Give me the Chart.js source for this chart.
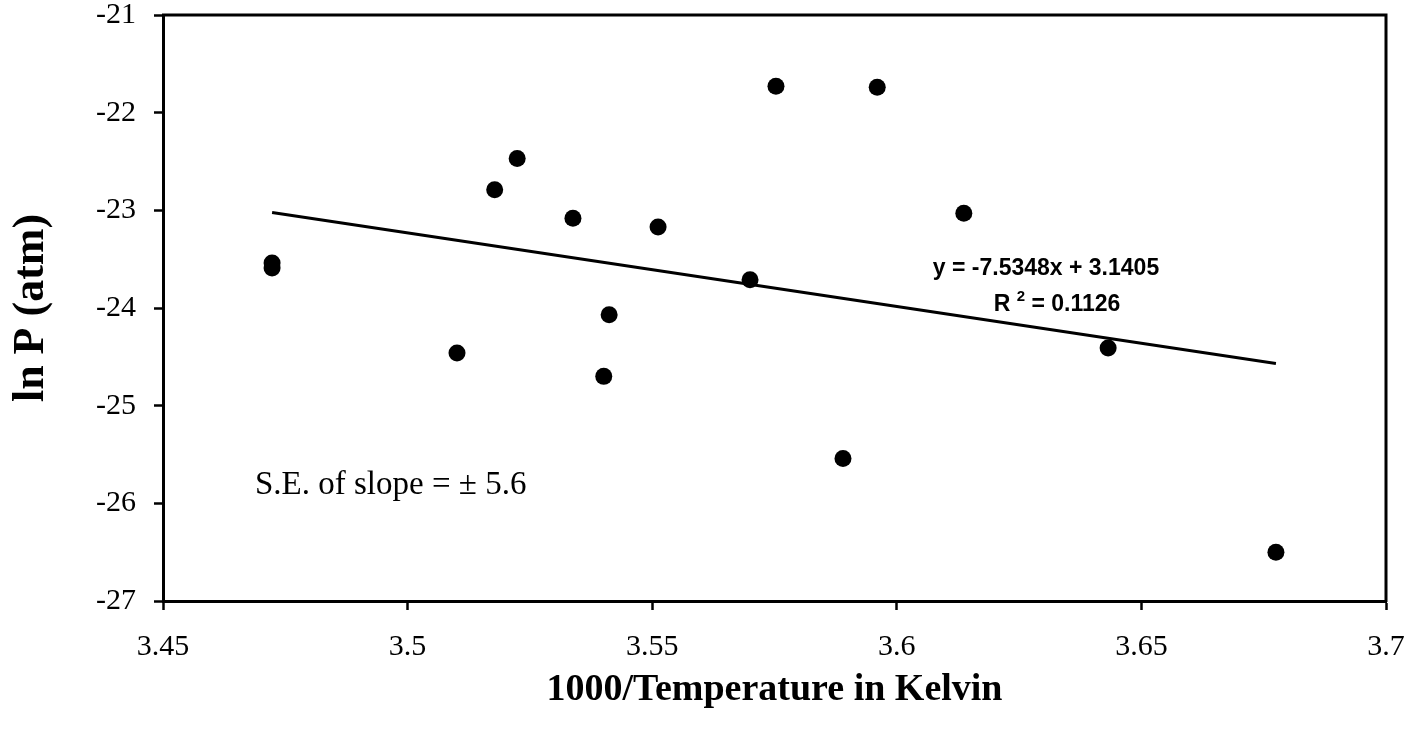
<!DOCTYPE html>
<html>
<head>
<meta charset="utf-8">
<title>ln P vs 1000/T</title>
<script src="https://cdn.jsdelivr.net/npm/chart.js@4/dist/chart.umd.min.js"></script>
<style>
  html, body { margin: 0; padding: 0; background: #fff; }
  #wrap { width: 1410px; height: 736px; }
</style>
</head>
<body>
<div id="wrap"><canvas id="lnpChart" width="1410" height="736"></canvas></div>
<script>
// measured points: 1000/T (K^-1) against ln P (atm)
const invTemp = [3.4723, 3.4723, 3.5101, 3.5178, 3.5224, 3.5338, 3.5401, 3.5412,
                 3.5512, 3.5700, 3.5753, 3.5890, 3.5960, 3.6137, 3.6432, 3.6775];
const lnP = [-23.54, -23.59, -24.46, -22.79, -22.47, -23.08, -24.70, -24.07,
             -23.17, -23.71, -21.73, -25.54, -21.74, -23.03, -24.41, -26.50];

// linear fit reported on the plot
const fitSlope = -7.5348;
const fitIntercept = 3.1405;
const fitR2 = "0.1126";
const slopeSE = "5.6";

// axis ticks
const xTicks = [3.45, 3.5, 3.55, 3.6, 3.65, 3.7];
const xTickLabels = ["3.45", "3.5", "3.55", "3.6", "3.65", "3.7"];
const yTicks = [-27, -26, -25, -24, -23, -22, -21];
const yTickLabels = ["-27", "-26", "-25", "-24", "-23", "-22", "-21"];

document.addEventListener("DOMContentLoaded", function () {
  const canvas = document.getElementById("lnpChart");

  const points = invTemp.map(function (x, i) { return { x: x, y: lnP[i] }; });
  const xMin = Math.min.apply(null, invTemp);
  const xMax = Math.max.apply(null, invTemp);
  const fitLine = [
    { x: xMin, y: fitSlope * xMin + fitIntercept },
    { x: xMax, y: fitSlope * xMax + fitIntercept }
  ];

  // top and right edges of the plot box
  const frame = {
    id: "frame",
    afterDatasetsDraw: function (chart) {
      const a = chart.chartArea, ctx = chart.ctx;
      ctx.save();
      ctx.strokeStyle = "#000";
      ctx.lineWidth = 3;
      ctx.beginPath();
      ctx.moveTo(a.left - 1, a.top);
      ctx.lineTo(a.right, a.top);
      ctx.lineTo(a.right, a.bottom + 1);
      ctx.stroke();
      ctx.restore();
    }
  };

  // regression text and slope error note
  const notes = {
    id: "notes",
    afterDraw: function (chart) {
      const ctx = chart.ctx;
      ctx.save();
      ctx.fillStyle = "#000";
      ctx.textBaseline = "alphabetic";

      ctx.font = 'bold 23px "Liberation Sans", Arial, sans-serif';
      ctx.textAlign = "center";
      const sign = fitIntercept < 0 ? " - " : " + ";
      ctx.fillText("y = " + fitSlope + "x" + sign + Math.abs(fitIntercept), 1046, 275);

      // R² line with a raised 2
      const head = "R ", tail = " = " + fitR2;
      const big = 'bold 23px "Liberation Sans", Arial, sans-serif';
      const small = 'bold 15px "Liberation Sans", Arial, sans-serif';
      ctx.font = big;
      const wHead = ctx.measureText(head).width, wTail = ctx.measureText(tail).width;
      ctx.font = small;
      const wSup = ctx.measureText("2").width;
      let x = 1057 - (wHead + wSup + wTail) / 2;
      ctx.textAlign = "left";
      ctx.font = big;
      ctx.fillText(head, x, 311);
      x += wHead;
      ctx.font = small;
      ctx.fillText("2", x, 301);
      x += wSup;
      ctx.font = big;
      ctx.fillText(tail, x, 311);

      ctx.font = '33px "Liberation Serif", "Times New Roman", serif';
      ctx.fillText("S.E. of slope = \u00b1 " + slopeSE, 255, 494);
      ctx.restore();
    }
  };

  const tickFont = { family: '"Liberation Serif", "Times New Roman", serif', size: 30 };

  new Chart(canvas, {
    type: "scatter",
    data: {
      datasets: [
        {
          label: "ln P",
          data: points,
          backgroundColor: "#000",
          borderWidth: 0,
          pointRadius: 8.5,
          pointHoverRadius: 8.5
        },
        {
          type: "line",
          label: "fit",
          data: fitLine,
          borderColor: "#000",
          borderWidth: 3,
          pointRadius: 0,
          fill: false
        }
      ]
    },
    options: {
      responsive: false,
      animation: false,
      layout: { padding: { top: 15, right: 24, bottom: 0, left: 0 } },
      plugins: {
        legend: { display: false },
        tooltip: { enabled: false }
      },
      scales: {
        x: {
          type: "linear",
          min: xTicks[0],
          max: xTicks[xTicks.length - 1],
          afterBuildTicks: function (scale) {
            scale.ticks = xTicks.map(function (v) { return { value: v }; });
          },
          afterFit: function (scale) {
            scale.height = 135;
            scale.paddingLeft = 0;
            scale.paddingRight = 0;
          },
          grid: { display: true, drawOnChartArea: false, drawTicks: true, tickLength: 9, tickWidth: 2.5, tickColor: "#000" },
          border: { display: true, color: "#000", width: 3 },
          ticks: {
            color: "#000",
            font: tickFont,
            padding: 19,
            maxRotation: 0,
            autoSkip: false,
            callback: function (v, i) { return xTickLabels[i]; }
          },
          title: {
            display: true,
            text: "1000/Temperature in Kelvin",
            color: "#000",
            font: { family: '"Liberation Serif", "Times New Roman", serif', size: 38, weight: "bold" },
            padding: { top: 0, bottom: 23 }
          }
        },
        y: {
          type: "linear",
          min: yTicks[0],
          max: yTicks[yTicks.length - 1],
          afterBuildTicks: function (scale) {
            scale.ticks = yTicks.map(function (v) { return { value: v }; });
          },
          afterFit: function (scale) {
            scale.width = 163;
            scale.paddingTop = 0;
            scale.paddingBottom = 0;
          },
          grid: { display: true, drawOnChartArea: false, drawTicks: true, tickLength: 9, tickWidth: 2.5, tickColor: "#000" },
          border: { display: true, color: "#000", width: 3 },
          ticks: {
            color: "#000",
            font: tickFont,
            padding: 18,
            autoSkip: false,
            callback: function (v, i) { return yTickLabels[i]; }
          },
          title: {
            display: true,
            text: "ln P (atm)",
            color: "#000",
            font: { family: '"Liberation Serif", "Times New Roman", serif', size: 44, weight: "bold" },
            padding: { top: 5, bottom: 0 }
          }
        }
      }
    },
    plugins: [frame, notes]
  });
});
</script>
</body>
</html>
